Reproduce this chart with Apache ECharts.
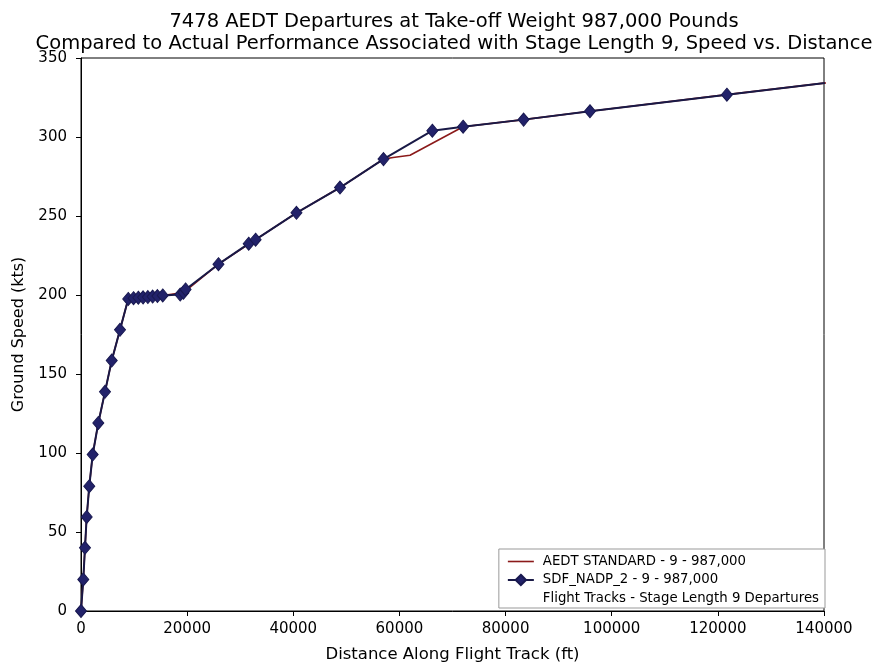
<!DOCTYPE html>
<html>
<head>
<meta charset="utf-8">
<script src="https://cdn.jsdelivr.net/npm/echarts@6/dist/echarts.min.js"></script>
<style>
html,body{margin:0;padding:0;background:#fff;}
#chart{width:886px;height:668px;}
</style>
</head>
<body>
<div id="chart"></div>
<script>
// Measured series (SDF_NADP_2) - distance (ft) and ground speed (kts)
const nadpDistance = [0, 430, 750, 1070, 1560, 2200, 3260, 4520, 5790, 7350, 8900, 9900, 10800, 11700, 12600, 13500, 14400, 15400, 18700, 19300, 19700, 25900, 31600, 32900, 40600, 48800, 57000, 66200, 72000, 83400, 95900, 121700, 146000];
const nadpSpeed    = [0, 20, 40, 59.5, 79, 99, 119, 138.7, 158.5, 178, 197.5, 198, 198.3, 198.5, 198.7, 199, 199.3, 199.7, 200.3, 201.5, 203.5, 219.5, 232.5, 235, 252, 268, 286, 304, 306.5, 311, 316.3, 326.8, 336.5];
// AEDT standard profile
const aedtDistance = [0, 430, 750, 1070, 1560, 2200, 3260, 4520, 5790, 7350, 8900, 15400, 19300, 25900, 32900, 40600, 48800, 57000, 58800, 62000, 72000, 83400, 95900, 121700, 146000];
const aedtSpeed    = [0, 20, 40, 59.5, 79, 99, 119, 138.7, 158.5, 178, 197.5, 199.7, 201.5, 219.5, 235, 252, 268, 286, 287, 288.5, 306.5, 311, 316.3, 326.8, 336.5];

const xTicks = [0, 20000, 40000, 60000, 80000, 100000, 120000, 140000];
const yTicks = [0, 50, 100, 150, 200, 250, 300, 350];

const titleLines = ['7478 AEDT Departures at Take-off Weight 987,000 Pounds',
  'Compared to Actual Performance Associated with Stage Length 9, Speed vs. Distance'];
const seriesNames = ['AEDT STANDARD - 9 - 987,000', 'SDF_NADP_2 - 9 - 987,000', 'Flight Tracks - Stage Length 9 Departures'];

const zip = (a, b) => a.map((v, i) => [v, b[i]]);
const FONT = 'DejaVu Sans';

const chart = echarts.init(document.getElementById('chart'), null, {renderer: 'canvas'});
chart.setOption({
  backgroundColor: '#fff',
  animation: false,
  textStyle: {fontFamily: FONT, color: '#000'},
  title: {
    text: titleLines.join('\n'),
    left: 449, top: 6, textAlign: 'center',
    textStyle: {fontFamily: FONT, fontSize: 19.5, fontWeight: 'normal', color: '#000', lineHeight: 22}
  },
  grid: {left: 81, right: 62, top: 58, bottom: 54, show: true, borderColor: '#000', borderWidth: 1, backgroundColor: 'transparent'},
  xAxis: {
    type: 'value', min: 0, max: 140000, interval: 20000,
    name: 'Distance Along Flight Track (ft)', nameLocation: 'middle', nameGap: 35,
    nameTextStyle: {fontFamily: FONT, fontSize: 16.5, color: '#000'},
    axisLine: {show: true, onZero: false, lineStyle: {color: '#000', width: 1}},
    axisTick: {show: true, length: 5, lineStyle: {color: '#000'}},
    axisLabel: {fontFamily: FONT, fontSize: 15, color: '#000', margin: 11,
      formatter: v => xTicks.includes(v) ? String(v) : ''},
    splitLine: {show: false}
  },
  yAxis: {
    type: 'value', min: 0, max: 350, interval: 50,
    name: 'Ground Speed (kts)', nameLocation: 'middle', nameGap: 54,
    nameTextStyle: {fontFamily: FONT, fontSize: 16, color: '#000'},
    axisLine: {show: true, onZero: false, lineStyle: {color: '#000', width: 1}},
    axisTick: {show: true, length: 5, lineStyle: {color: '#000'}},
    axisLabel: {fontFamily: FONT, fontSize: 15, color: '#000', margin: 14,
      formatter: v => yTicks.includes(v) ? String(v) : ''},
    splitLine: {show: false}
  },
  legend: {
    orient: 'vertical', right: 61, bottom: 60,
    backgroundColor: '#fff', borderColor: '#999', borderWidth: 1, borderRadius: 0,
    padding: [6, 6, 3, 8], itemGap: 5.5, itemWidth: 26, itemHeight: 13,
    textStyle: {fontFamily: FONT, fontSize: 13.3, color: '#000', padding: [0, 0, 0, 4]},
    data: [
      {name: seriesNames[0], icon: 'path://M0,0L26,0L26,1.6L0,1.6Z'},
      {name: seriesNames[1]},
      {name: seriesNames[2], icon: 'none'}
    ]
  },
  series: [
    {
      name: seriesNames[0], type: 'line', data: zip(aedtDistance, aedtSpeed),
      showSymbol: false, symbol: 'none', clip: true,
      lineStyle: {color: '#8b1a1a', width: 1.6}, itemStyle: {color: '#8b1a1a'}, z: 2
    },
    {
      name: seriesNames[1], type: 'line', data: zip(nadpDistance, nadpSpeed),
      symbol: 'diamond', symbolSize: [11, 13], showAllSymbol: true, clip: true,
      lineStyle: {color: '#191946', width: 2}, itemStyle: {color: '#22226a', borderColor: '#191950', borderWidth: 1}, z: 3
    },
    {
      name: seriesNames[2], type: 'line', data: [],
      symbol: 'none', lineStyle: {opacity: 0}, itemStyle: {opacity: 0}
    }
  ]
});
</script>
</body>
</html>
